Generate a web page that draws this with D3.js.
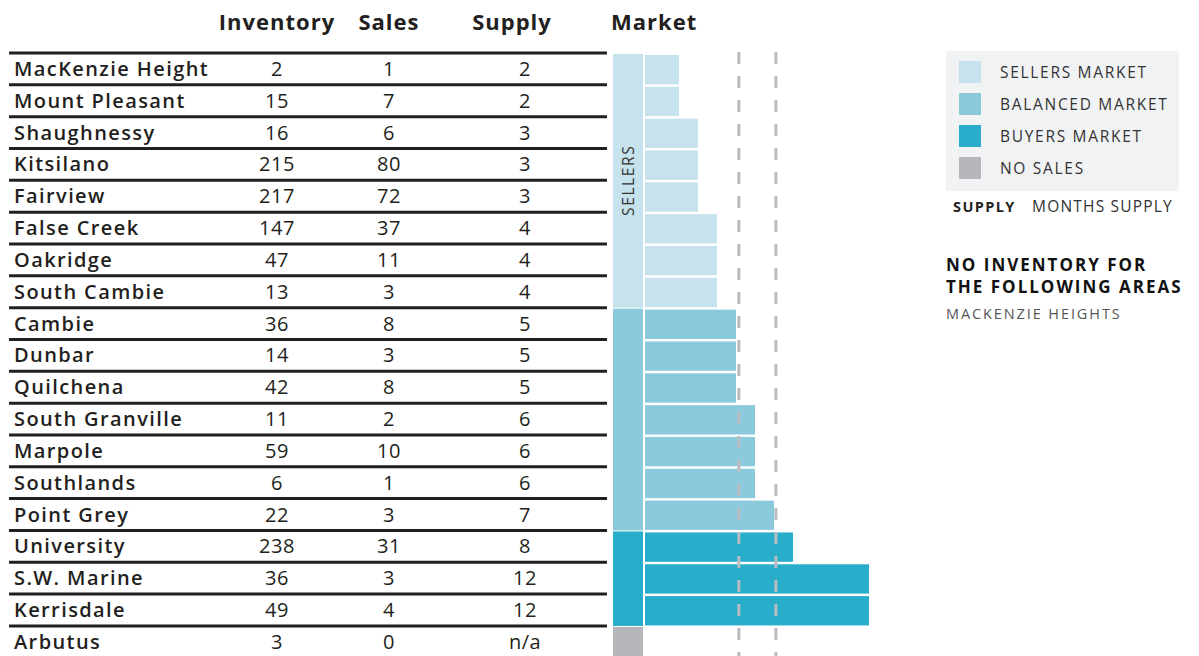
<!DOCTYPE html>
<html>
<head>
<meta charset="utf-8">
<script src="https://cdn.jsdelivr.net/npm/d3@7"></script>
<style>
  body { margin: 0; background: #fff; }
  svg { font-family: "Open Sans", sans-serif; }
</style>
</head>
<body>
<svg id="chart" width="1199" height="656"></svg>
<script>
// table data
const areas = ["MacKenzie Height", "Mount Pleasant", "Shaughnessy", "Kitsilano", "Fairview",
  "False Creek", "Oakridge", "South Cambie", "Cambie", "Dunbar", "Quilchena", "South Granville",
  "Marpole", "Southlands", "Point Grey", "University", "S.W. Marine", "Kerrisdale", "Arbutus"];
const inventory = [2, 15, 16, 215, 217, 147, 47, 13, 36, 14, 42, 11, 59, 6, 22, 238, 36, 49, 3];
const sales = [1, 7, 6, 80, 72, 37, 11, 3, 8, 3, 8, 2, 10, 1, 3, 31, 3, 4, 0];
const supply = [2, 2, 3, 3, 3, 4, 4, 4, 5, 5, 5, 6, 6, 6, 7, 8, 12, 12, null];
const market = ["sellers", "sellers", "sellers", "sellers", "sellers", "sellers", "sellers", "sellers",
  "balanced", "balanced", "balanced", "balanced", "balanced", "balanced", "balanced",
  "buyers", "buyers", "buyers", "nosales"];

const columns = ["Inventory", "Sales", "Supply", "Market"];
const marketKeys = ["sellers", "balanced", "buyers", "nosales"];
const marketLabels = ["SELLERS MARKET", "BALANCED MARKET", "BUYERS MARKET", "NO SALES"];
const thresholds = [5.15, 7.1];
const noInventory = ["MACKENZIE HEIGHTS"];

const svg = d3.select("#chart");

const colors = d3.scaleOrdinal()
  .domain(marketKeys)
  .range(["#c6e2ec", "#8bcadc", "#28adca", "#b5b7bb"]);

// rows
const rowH = 31.83;
const y = d3.scaleBand().domain(areas).range([53, 53 + rowH * areas.length]);

// column positions
const colX = { Inventory: 277, Sales: 389, Supply: 525 };
const headX = { Inventory: 277, Sales: 389, Supply: 512, Market: 611 };

// headers
svg.selectAll("text.head").data(columns)
  .join("text")
  .attr("class", "head")
  .attr("x", d => headX[d])
  .attr("y", 30)
  .attr("text-anchor", d => d === "Market" ? "start" : "middle")
  .attr("font-size", 22)
  .attr("font-weight", 700)
  .attr("letter-spacing", 1)
  .attr("fill", "#231f20")
  .text(d => d);

// row lines
svg.selectAll("line.row").data(areas)
  .join("line")
  .attr("class", "row")
  .attr("x1", 9).attr("x2", 607)
  .attr("y1", d => y(d)).attr("y2", d => y(d))
  .attr("stroke", "#231f20")
  .attr("stroke-width", 3);

// names
svg.selectAll("text.name").data(areas)
  .join("text")
  .attr("class", "name")
  .attr("x", 14)
  .attr("y", d => y(d) + rowH / 2 + 7)
  .attr("font-size", 20)
  .attr("font-weight", 600)
  .attr("letter-spacing", 1.4)
  .attr("fill", "#231f20")
  .text(d => d);

// numbers
const cells = [["Inventory", inventory], ["Sales", sales], ["Supply", supply]];
cells.forEach(([key, vals]) => {
  svg.selectAll("text.num-" + key).data(vals)
    .join("text")
    .attr("class", "num-" + key)
    .attr("x", colX[key])
    .attr("y", (d, i) => y(areas[i]) + rowH / 2 + 7)
    .attr("text-anchor", "middle")
    .attr("font-size", 20)
    .attr("font-weight", 400)
    .attr("letter-spacing", 0.5)
    .attr("fill", "#231f20")
    .text(d => d === null ? "n/a" : d);
});

// market blocks
const groups = marketKeys.map(k => {
  const idx = areas.filter((a, i) => market[i] === k);
  return { key: k, first: idx[0], last: idx[idx.length - 1] };
});
svg.selectAll("rect.block").data(groups)
  .join("rect")
  .attr("class", "block")
  .attr("x", 613)
  .attr("width", 30)
  .attr("y", d => y(d.first) + 1)
  .attr("height", d => y(d.last) + rowH - y(d.first) - 1)
  .attr("fill", d => colors(d.key));

svg.append("text")
  .attr("transform", `translate(634,${(y(groups[0].first) + y(groups[0].last) + rowH) / 2}) rotate(-90)`)
  .attr("text-anchor", "middle")
  .attr("font-size", 15.5)
  .attr("letter-spacing", 1.6)
  .attr("fill", "#333")
  .text("SELLERS");

// bars
const x = d3.scaleLinear().domain([0, 12]).range([641, 869]);
svg.selectAll("rect.bar").data(areas.filter((a, i) => supply[i] !== null))
  .join("rect")
  .attr("class", "bar")
  .attr("x", 645)
  .attr("y", d => y(d) + 2)
  .attr("width", d => x(supply[areas.indexOf(d)]) - 645)
  .attr("height", rowH - 2.5)
  .attr("fill", d => colors(market[areas.indexOf(d)]));

// threshold lines
svg.selectAll("line.thr").data(thresholds)
  .join("line")
  .attr("class", "thr")
  .attr("x1", d => x(d)).attr("x2", d => x(d))
  .attr("y1", 52).attr("y2", 656)
  .attr("stroke", "#b9bcc0")
  .attr("stroke-width", 3)
  .attr("stroke-dasharray", "12 12");

// legend
const lg = svg.append("g");
lg.append("rect")
  .attr("x", 946).attr("y", 51)
  .attr("width", 233).attr("height", 140)
  .attr("fill", "#f1f2f4");
const ly = d3.scalePoint().domain(marketKeys).range([72, 168]);
lg.selectAll("rect.sw").data(marketKeys)
  .join("rect")
  .attr("class", "sw")
  .attr("x", 959).attr("y", d => ly(d) - 11)
  .attr("width", 22).attr("height", 22)
  .attr("fill", d => colors(d));
lg.selectAll("text.lab").data(marketLabels)
  .join("text")
  .attr("class", "lab")
  .attr("x", 1000)
  .attr("y", (d, i) => ly(marketKeys[i]) + 5.5)
  .attr("font-size", 15.5)
  .attr("letter-spacing", 1.7)
  .attr("fill", "#333")
  .text(d => d);

svg.append("text")
  .attr("x", 953).attr("y", 212)
  .attr("font-size", 14.5).attr("font-weight", 700).attr("fill", "#231f20")
  .attr("letter-spacing", 1.4)
  .text("SUPPLY");
svg.append("text")
  .attr("x", 1032).attr("y", 212)
  .attr("font-size", 15.5).attr("fill", "#333")
  .attr("letter-spacing", 1.2)
  .text("MONTHS SUPPLY");

svg.selectAll("text.noinv").data(["NO INVENTORY FOR", "THE FOLLOWING AREAS"])
  .join("text")
  .attr("class", "noinv")
  .attr("x", 946)
  .attr("y", (d, i) => 271 + i * 22)
  .attr("font-size", 17)
  .attr("font-weight", 700)
  .attr("letter-spacing", 2)
  .attr("fill", "#111")
  .text(d => d);
svg.selectAll("text.noinvlist").data(noInventory)
  .join("text")
  .attr("class", "noinvlist")
  .attr("x", 946)
  .attr("y", (d, i) => 319 + i * 20)
  .attr("font-size", 14.5)
  .attr("letter-spacing", 1.9)
  .attr("fill", "#555")
  .text(d => d);
</script>
</body>
</html>
